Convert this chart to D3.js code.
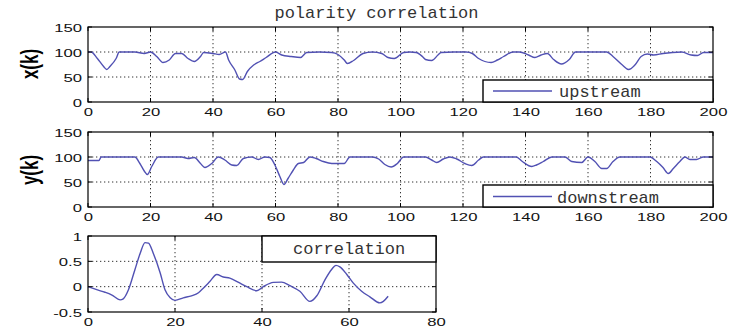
<!DOCTYPE html>
<html>
<head>
<meta charset="utf-8">
<script src="https://cdn.jsdelivr.net/npm/d3@7"></script>
<style>
  body { margin: 0; background: #fff; }
  svg { display: block; }
</style>
</head>
<body>
<svg id="chart" width="729" height="328"></svg>
<script>
// upstream signal x(k)
const upK = [0,1,3,5,6,7,9,10,15,18,20,22,24,26,28,30,32,34,36,37,40,42,44,45,47,48.5,49.5,51,53,55,57,60,62,65,68,70,74,78,80,82,83,85,88,91,94,96,98,101,103,105,107,108,110,112,113,117,121,123,125,129,131,133,136,138,141,143,145,147,149,151.5,154,156,160,166,168,171,173,175,177,179,181,184,187,190,193,195,197,200];
const upVal = [100,100,87,71,65,71,87,100,100,97,100,91,79,84,97,97,87,81,91,99,97,95,100,84,64,46,45,61,74,81,89,100,94,91,89,99,100,99,95,84,77,83,97,100,97,89,87,99,100,99,91,85,83,94,99,100,100,97,87,79,84,91,100,100,94,89,94,97,85,76,85,100,100,100,91,74,65,74,91,96,94,97,99,100,94,93,99,99];

// downstream signal y(k)
const downK = [0,3.5,4.2,15,16.6,18,19,20.4,22.5,30,32,34,36,37.4,39.6,41.7,43.8,46,47.6,49.7,52.4,54.5,56.6,58.2,59.8,61.4,62.7,64,65.7,67.3,69,71,73,75.3,78,82,83.8,91,93,95,97,99,101,108,110,111.6,113.7,115.8,118,120.6,122.8,125,126.5,137,139,142,143.5,145.7,148.4,152.6,154.8,158,160,162.2,164.4,166,168,170.2,179.8,182,184,185.7,187.3,189.4,191,192.6,194.7,196.9,200];
const downVal = [93,93,100,100,87,72,65,81,100,100,97,99,87,79,87,100,94,84,83,97,100,95,100,99,84,61,45,57,74,87,89,100,97,91,87,87,100,100,96,85,80,87,100,100,94,89,96,100,96,87,83,94,100,100,91,81,84,91,100,100,91,89,100,91,77,77,91,100,100,91,79,67,77,91,100,95,95,100,100];

// cross correlation
const corrK = [0,2,3.9,5.4,7.4,8.1,9.3,10.8,12,13.1,13.9,15,16.6,17.7,18.9,20,21.9,23.8,25.4,26.5,28,29.6,31.1,32.6,34.5,36.5,38.8,40.3,42.6,44.5,46.4,48.7,51,52.6,54.5,56,57,57.9,59.5,61,62.9,64.8,67.1,67.9,69];
const corrVal = [0,-0.06,-0.11,-0.16,-0.26,-0.24,-0.06,0.34,0.66,0.87,0.86,0.66,0.27,-0.06,-0.22,-0.27,-0.22,-0.18,-0.12,-0.03,0.10,0.24,0.19,0.17,0.09,0.0,-0.08,0,0.085,0.09,0.02,-0.09,-0.29,-0.18,0.14,0.34,0.42,0.39,0.24,0.07,-0.09,-0.2,-0.32,-0.29,-0.19];

const kTicks = [0,20,40,60,80,100,120,140,160,180,200];
const levelTicks = [0,50,100,150];
const lagTicks = [0,20,40,60,80];
const corrTicks = [-0.5,0,0.5,1];

const titleText = 'polarity correlation';
const yLabels = ['x(k)', 'y(k)'];
const legendLabels = ['upstream', 'downstream', 'correlation'];

const svg = d3.select('#chart');
const lineColor = '#5151b3';
const monoFont = '"Liberation Mono", "DejaVu Sans Mono", monospace';
const sansFont = '"Liberation Sans", Arial, sans-serif';

function drawPanel(p) {
  const x = d3.scaleLinear().domain(p.xDomain).range([p.left, p.right]);
  const y = d3.scaleLinear().domain(p.yDomain).range([p.bottom, p.top]);
  const g = svg.append('g');

  // dotted grid
  g.append('g').selectAll('line')
    .data(p.xTicks.slice(1, -1))
    .join('line')
    .attr('x1', d => x(d)).attr('x2', d => x(d))
    .attr('y1', p.top).attr('y2', p.bottom)
    .attr('stroke', '#333').attr('stroke-width', 1)
    .attr('stroke-dasharray', '1.3,2.7');
  g.append('g').selectAll('line')
    .data(p.yTicks.slice(1, -1))
    .join('line')
    .attr('x1', p.left).attr('x2', p.right)
    .attr('y1', d => y(d)).attr('y2', d => y(d))
    .attr('stroke', '#333').attr('stroke-width', 1)
    .attr('stroke-dasharray', '1.3,2.7');

  // data line
  const pts = d3.zip(p.k, p.v);
  g.append('path')
    .datum(pts)
    .attr('fill', 'none')
    .attr('stroke', lineColor)
    .attr('stroke-width', 1.4)
    .attr('d', d3.line().x(d => x(d[0])).y(d => y(d[1])).curve(d3.curveMonotoneX));

  // inward tick marks
  const tl = 4;
  g.append('g').selectAll('line')
    .data(p.xTicks)
    .join('line')
    .attr('x1', d => x(d)).attr('x2', d => x(d))
    .attr('y1', p.bottom).attr('y2', p.bottom - tl)
    .attr('stroke', '#000');
  g.append('g').selectAll('line')
    .data(p.xTicks)
    .join('line')
    .attr('x1', d => x(d)).attr('x2', d => x(d))
    .attr('y1', p.top).attr('y2', p.top + tl)
    .attr('stroke', '#000');
  g.append('g').selectAll('line')
    .data(p.yTicks)
    .join('line')
    .attr('x1', p.left).attr('x2', p.left + tl)
    .attr('y1', d => y(d)).attr('y2', d => y(d))
    .attr('stroke', '#000');
  g.append('g').selectAll('line')
    .data(p.yTicks)
    .join('line')
    .attr('x1', p.right).attr('x2', p.right - tl)
    .attr('y1', d => y(d)).attr('y2', d => y(d))
    .attr('stroke', '#000');

  // box
  g.append('rect')
    .attr('x', p.left).attr('y', p.top)
    .attr('width', p.right - p.left).attr('height', p.bottom - p.top)
    .attr('fill', 'none').attr('stroke', '#000').attr('stroke-width', 1.2);

  // tick labels
  const fmt = d => String(d);
  const xa = g.append('g')
    .attr('transform', `translate(0,${p.bottom})`)
    .call(d3.axisBottom(x).tickValues(p.xTicks).tickSize(0).tickFormat(fmt));
  xa.select('.domain').remove();
  xa.attr('font-family', sansFont).attr('font-size', 11.5);
  xa.selectAll('text')
    .attr('y', null).attr('dy', null)
    .attr('fill', '#111')
    .attr('transform', 'translate(0,13.5) scale(1.45,1)');

  const ya = g.append('g')
    .attr('transform', `translate(${p.left},0)`)
    .call(d3.axisLeft(y).tickValues(p.yTicks).tickSize(0).tickFormat(fmt));
  ya.select('.domain').remove();
  ya.attr('font-family', sansFont).attr('font-size', 11.5);
  ya.selectAll('text')
    .attr('x', null).attr('dy', '0.36em')
    .attr('fill', '#111')
    .attr('transform', 'translate(-6,0) scale(1.45,1)');

  // legend
  const lg = p.legend;
  g.append('rect')
    .attr('x', lg.x).attr('y', lg.y)
    .attr('width', lg.w).attr('height', lg.h)
    .attr('fill', '#fff').attr('stroke', '#000').attr('stroke-width', 1.4);
  if (lg.sample) {
    g.append('line')
      .attr('x1', lg.x + 10).attr('x2', lg.x + 69)
      .attr('y1', lg.lineY).attr('y2', lg.lineY)
      .attr('stroke', lineColor).attr('stroke-width', 1.4);
  }
  g.append('text')
    .attr('x', lg.textX).attr('y', lg.textY)
    .attr('font-family', monoFont).attr('font-size', 17)
    .attr('fill', '#333')
    .text(lg.label);

  return g;
}

drawPanel({
  left: 88, right: 713, top: 27, bottom: 102,
  xDomain: [0, 200], yDomain: [0, 150],
  xTicks: kTicks, yTicks: levelTicks,
  k: upK, v: upVal,
  legend: { x: 483, y: 80, w: 230, h: 22, sample: true, lineY: 91, textX: 559, textY: 97, label: legendLabels[0] }
});

drawPanel({
  left: 88, right: 713, top: 132, bottom: 207,
  xDomain: [0, 200], yDomain: [0, 150],
  xTicks: kTicks, yTicks: levelTicks,
  k: downK, v: downVal,
  legend: { x: 483, y: 185, w: 230, h: 22, sample: true, lineY: 196.5, textX: 557, textY: 202.5, label: legendLabels[1] }
});

drawPanel({
  left: 88, right: 436, top: 236, bottom: 312,
  xDomain: [0, 80], yDomain: [-0.5, 1],
  xTicks: lagTicks, yTicks: corrTicks,
  k: corrK, v: corrVal,
  legend: { x: 262, y: 236, w: 174, h: 26, sample: false, textX: 293, textY: 254, label: legendLabels[2] }
});

// title
svg.append('text')
  .attr('x', 376.5).attr('y', 18)
  .attr('text-anchor', 'middle')
  .attr('font-family', monoFont).attr('font-size', 17)
  .attr('fill', '#333')
  .text(titleText);

// y axis labels
[[29, 64], [29, 170]].forEach((c, i) => {
  svg.append('text')
    .attr('transform', `translate(${c[0]},${c[1]}) scale(1.45,1) rotate(-90)`)
    .attr('text-anchor', 'middle')
    .attr('dominant-baseline', 'central')
    .attr('font-family', sansFont).attr('font-weight', 'bold').attr('font-size', 17)
    .attr('fill', '#000')
    .text(yLabels[i]);
});
</script>
</body>
</html>
